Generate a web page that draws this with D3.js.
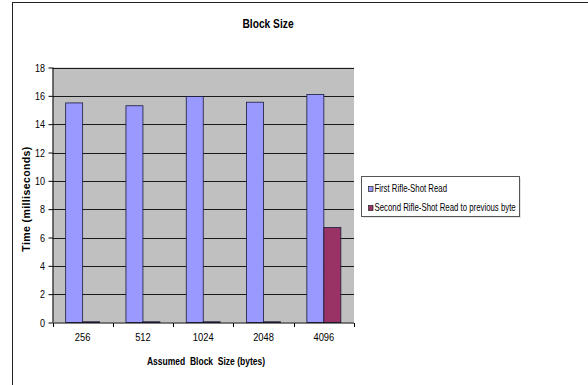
<!DOCTYPE html>
<html>
<head>
<meta charset="utf-8">
<script src="https://cdn.jsdelivr.net/npm/d3@7"></script>
<style>
  body { margin: 0; background: #fff; }
  svg text { font-family: "Liberation Sans", Arial, sans-serif; }
</style>
</head>
<body>
<script>
// values
var blockSizes = ['256', '512', '1024', '2048', '4096'];
var seriesNames = ['First Rifle-Shot Read', 'Second Rifle-Shot Read to previous byte'];
var firstRead = [15.5, 15.3, 15.95, 15.55, 16.1];
var secondRead = [0.05, 0.05, 0.05, 0.05, 6.7];
var yTicks = [0, 2, 4, 6, 8, 10, 12, 14, 16, 18];
var colors = ['#9999ff', '#993366'];

var width = 588, height = 385;
var plot = { left: 52.5, right: 354, top: 67.5, bottom: 322.5 };

var svg = d3.select('body').append('svg')
  .attr('width', width)
  .attr('height', height);

// narrow text: the original uses a condensed face, squeeze a normal one
function narrow(sel, x, y, k) {
  return sel.attr('transform', 'translate(' + x + ',' + y + ') scale(' + k + ',1)');
}

// chart frame (only left and top edges show in the picture)
svg.append('rect')
  .attr('x', 12.5).attr('y', 2.5)
  .attr('width', 700).attr('height', 500)
  .attr('fill', 'none')
  .attr('stroke', '#222')
  .attr('stroke-width', 1);

narrow(svg.append('text'), 268, 28, 0.82)
  .attr('text-anchor', 'middle')
  .attr('font-size', 12.5)
  .attr('font-weight', 'bold')
  .text('Block Size');

var x = d3.scaleBand()
  .domain(blockSizes)
  .range([plot.left, plot.right]);

var y = d3.scaleLinear()
  .domain([0, 18])
  .range([plot.bottom, plot.top]);

// gray plot area
svg.append('rect')
  .attr('x', plot.left).attr('y', plot.top)
  .attr('width', plot.right - plot.left)
  .attr('height', plot.bottom - plot.top)
  .attr('fill', '#c0c0c0');

// gridlines
svg.append('g')
  .selectAll('line')
  .data(yTicks.slice(1))
  .enter().append('line')
  .attr('x1', plot.left).attr('x2', plot.right)
  .attr('y1', function(d) { return Math.round(y(d)) + 0.5; })
  .attr('y2', function(d) { return Math.round(y(d)) + 0.5; })
  .attr('stroke', '#1a1a1a')
  .attr('stroke-width', 1);

// bars
var barW = 17;
var series = [firstRead, secondRead];
series.forEach(function(vals, s) {
  svg.append('g')
    .selectAll('rect')
    .data(vals)
    .enter().append('rect')
    .attr('x', function(d, i) { return x(blockSizes[i]) + x.bandwidth() / 2 - barW + s * barW; })
    .attr('y', function(d) { return y(d); })
    .attr('width', barW)
    .attr('height', function(d) { return y(0) - y(d); })
    .attr('fill', colors[s])
    .attr('stroke', '#1a1a3a')
    .attr('stroke-width', 0.8);
});

// y axis
var yAxis = svg.append('g')
  .attr('transform', 'translate(' + plot.left + ',0)')
  .call(d3.axisLeft(y).tickValues(yTicks).tickSize(4).tickPadding(5));
yAxis.selectAll('text')
  .attr('font-size', 11)
  .attr('fill', '#000')
  .attr('transform', 'scale(0.82,1)');
yAxis.selectAll('line, path').attr('stroke', '#000');
yAxis.select('.domain').attr('d', 'M0.5,' + plot.top + 'V' + plot.bottom);

// x axis, ticks at category boundaries
var bounds = blockSizes.map(function(c) { return x(c); }).concat([plot.right]);
var xAxis = svg.append('g')
  .attr('transform', 'translate(0,' + (plot.bottom + 0.5) + ')');
xAxis.append('line')
  .attr('x1', plot.left).attr('x2', plot.right)
  .attr('stroke', '#000');
xAxis.selectAll('.tk')
  .data(bounds)
  .enter().append('line')
  .attr('class', 'tk')
  .attr('x1', function(d) { return Math.round(d) + 0.5; })
  .attr('x2', function(d) { return Math.round(d) + 0.5; })
  .attr('y1', 0).attr('y2', 4)
  .attr('stroke', '#000');
xAxis.selectAll('.lbl')
  .data(blockSizes)
  .enter().append('text')
  .attr('class', 'lbl')
  .attr('transform', function(d) { return 'translate(' + (x(d) + x.bandwidth() / 2) + ',18) scale(0.85,1)'; })
  .attr('text-anchor', 'middle')
  .attr('font-size', 11)
  .text(function(d) { return d; });

// axis titles
svg.append('text')
  .attr('transform', 'translate(29.5,199) rotate(-90)')
  .attr('text-anchor', 'middle')
  .attr('font-size', 10.5)
  .attr('font-weight', 'bold')
  .style('letter-spacing', '0.4px')
  .text('Time (milliseconds)');

narrow(svg.append('text'), 206, 365, 0.74)
  .attr('text-anchor', 'middle')
  .attr('font-size', 11.5)
  .attr('font-weight', 'bold')
  .attr('xml:space', 'preserve')
  .text('Assumed  Block  Size (bytes)');

// legend
var legend = svg.append('g').attr('transform', 'translate(361.5,176.5)');
legend.append('rect')
  .attr('x', 1.5).attr('y', 1.5)
  .attr('width', 158).attr('height', 40)
  .attr('fill', '#e6e6e6');
legend.append('rect')
  .attr('width', 158).attr('height', 40)
  .attr('fill', '#fff')
  .attr('stroke', '#555');
var items = legend.selectAll('.item')
  .data(seriesNames)
  .enter().append('g')
  .attr('class', 'item')
  .attr('transform', function(d, i) { return 'translate(7,' + (10 + i * 19) + ')'; });
items.append('rect')
  .attr('width', 4.5).attr('height', 5)
  .attr('fill', function(d, i) { return colors[i]; })
  .attr('stroke', '#222')
  .attr('stroke-width', 0.7);
items.append('text')
  .attr('transform', 'translate(6,5.5) scale(0.745,1)')
  .attr('font-size', 10.5)
  .text(function(d) { return d; });
</script>
</body>
</html>
